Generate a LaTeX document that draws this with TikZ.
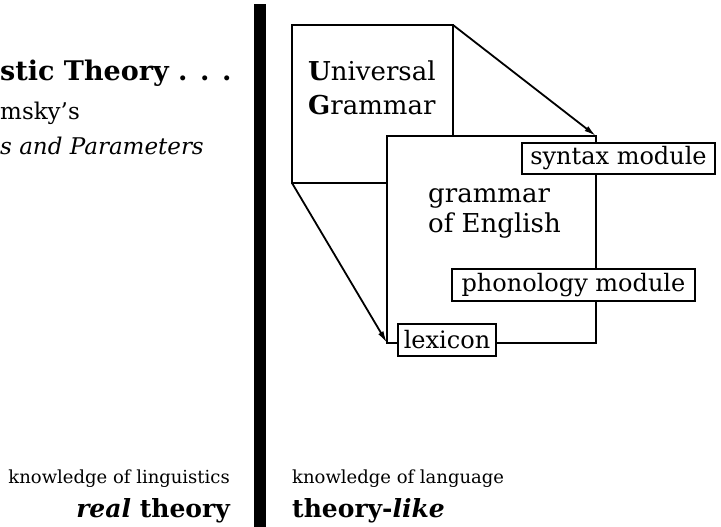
\documentclass[tikz,border=0pt]{standalone}
\usepackage{fontspec}
\setmainfont{DejaVu Serif}
\usetikzlibrary{arrows.meta,positioning}
\tikzset{
    grambox/.style={rectangle,draw,fill=white,line width=2.4pt,inner sep=0pt,outer sep=0pt,anchor=north west},
    modbox/.style={rectangle,draw,fill=white,line width=2.2pt,inner sep=0pt,outer sep=0pt,anchor=north west,font=\fontsize{24}{28}\selectfont},
    boxtext/.style={align=left,inner sep=0pt,anchor=north west,font=\fontsize{26}{31}\selectfont},
    sidetext/.style={inner sep=0pt,font=\fontsize{18}{21}\selectfont},
    sidehead/.style={inner sep=0pt,font=\fontsize{25}{28}\selectfont\bfseries},
    lefthead/.style={inner sep=0pt,anchor=base west,font=\fontsize{23}{27}\selectfont},
    linkline/.style={-{Latex[length=12pt,width=6pt]},line width=1.8pt}
}

\begin{document}
\begin{tikzpicture}[x=1pt,y=-1pt]
    \useasboundingbox (0,0) rectangle (721,527);
    % left side: theory of linguistics
    \node[lefthead,font=\fontsize{27}{30}\selectfont\bfseries] (title) at (0,81) {stic Theory . . .};
    \node[lefthead] (chom) at (0,120) {msky’s};
    \node[lefthead,font=\fontsize{23}{27}\selectfont\itshape] (pp) at (0,154) {s and Parameters};
    % the dividing bar
    \fill (254,4) rectangle (266,527);
    % right side: grammars
    \node[grambox,minimum width=161pt,minimum height=158pt] (ug) at (292,25) {};
    \node[boxtext,font=\fontsize{26}{34}\selectfont] (ugtext) at (308,61) {\textbf{U}niversal\\\textbf{G}rammar};
    \node[grambox,minimum width=209pt,minimum height=207pt] (ge) at (387,136) {};
    \node[boxtext,font=\fontsize{26}{30}\selectfont] (getext) at (428,188) {grammar\\of English};
    \node[modbox,minimum width=193pt,minimum height=31pt] (syn) at (522,143) {syntax module};
    \node[modbox,minimum width=243pt,minimum height=32pt] (phon) at (452,269) {phonology module};
    \node[modbox,minimum width=98pt,minimum height=32pt] (lex) at (398,324) {lexicon};
    \draw[linkline] (ug.north east) -- (ge.north east);
    \draw[linkline] (ug.south west) -- (ge.south west);
    % bottom labels
    \node[sidetext,anchor=base east] (kling) at (230,483) {knowledge of linguistics};
    \node[sidehead,anchor=base east] (real) at (230,517) {\textit{real} theory};
    \node[sidetext,anchor=base west] (klang) at (292,483) {knowledge of language};
    \node[sidehead,anchor=base west] (tlike) at (292,517) {theory-\textit{like}};
\end{tikzpicture}
\end{document}
